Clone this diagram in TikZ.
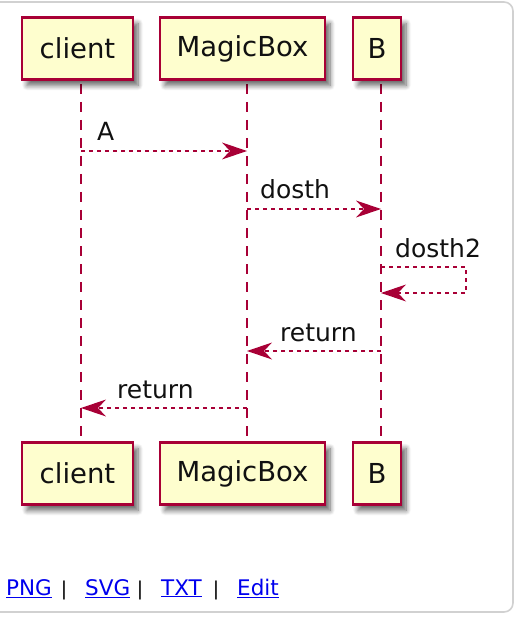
\documentclass[tikz,border=0pt]{standalone}
\usepackage{fontspec}
\setmainfont{DejaVu Sans}
\usetikzlibrary{arrows.meta,shadows.blur}
\definecolor{pbord}{HTML}{A80036}
\definecolor{pfill}{HTML}{FEFECE}
\definecolor{ptext}{HTML}{111111}
\definecolor{linkblue}{HTML}{0000EE}
\tikzset{
  part/.style={draw=pbord, fill=pfill, line width=2.2pt, minimum height=62pt, inner sep=0pt,
    text=ptext, font=\fontsize{27.5}{30}\selectfont,
    blur shadow={shadow xshift=5pt, shadow yshift=-6pt, shadow blur steps=8, shadow blur radius=5pt, shadow opacity=60}},
  lifeline/.style={draw=pbord, line width=2pt, dash pattern=on 10pt off 8pt},
  msg/.style={draw=pbord, line width=2pt, dash pattern=on 4pt off 4pt,
    -{Stealth[length=25pt, width=17pt, inset=8pt, fill=pbord, line width=0pt, sep=0pt]}},
  mlabel/.style={anchor=base west, inner sep=0pt, text=ptext, font=\fontsize{25}{28}\selectfont},
  link/.style={anchor=base west, inner sep=0pt, text=linkblue, font=\fontsize{21.5}{24}\selectfont},
  sepbar/.style={anchor=base, inner sep=0pt, text=black, font=\fontsize{19}{24}\selectfont}
}
\newcommand{\ulink}[1]{\setlength{\fboxsep}{0pt}\underline{#1}}
\begin{document}
\begin{tikzpicture}[x=1pt,y=-1pt]
\useasboundingbox (0,0) rectangle (522,620);
\draw[black!18, line width=1.6pt, rounded corners=9pt] (-12,2) rectangle (513,612);

% lifeline anchor coordinates
\coordinate (cT) at (81,84);   \coordinate (cB) at (81,442);
\coordinate (mT) at (247,84);  \coordinate (mB) at (247,442);
\coordinate (bT) at (381,84);  \coordinate (bB) at (381,442);
\draw[lifeline] (cT) -- (cB);
\draw[lifeline] (mT) -- (mB);
\draw[lifeline] (bT) -- (bB);

% participants
\node[part, minimum width=111pt] (client1) at (77.5,48.5) {client};
\node[part, minimum width=165pt] (magic1) at (242.5,48.5) {MagicBox};
\node[part, minimum width=48pt] (b1) at (377,48.5) {B};
\node[part, minimum width=111pt] (client2) at (77.5,473.5) {client};
\node[part, minimum width=165pt] (magic2) at (242.5,473.5) {MagicBox};
\node[part, minimum width=48pt] (b2) at (377,473.5) {B};

% message points
\coordinate (a1) at (81,151);  \coordinate (a2) at (247,151);
\coordinate (d1) at (247,209); \coordinate (d2) at (381,209);
\coordinate (s1) at (381,267); \coordinate (s2) at (466,267);
\coordinate (s3) at (466,293); \coordinate (s4) at (381,293);
\coordinate (r1) at (381,351); \coordinate (r2) at (247,351);
\coordinate (q1) at (247,408); \coordinate (q2) at (81,408);

\draw[msg] (a1) -- (a2);
\node[mlabel] (lA) at (97,141) {A};
\draw[msg] (d1) -- (d2);
\node[mlabel] (ld) at (260,199) {dosth};
\draw[msg] (s1) -- (s2) -- (s3) -- (s4);
\node[mlabel] (ld2) at (395,257) {dosth2};
\draw[msg] (r1) -- (r2);
\node[mlabel] (lr1) at (280,341) {return};
\draw[msg] (q1) -- (q2);
\node[mlabel] (lr2) at (117,398) {return};

% links
\node[link] (png) at (6,595) {\underline{PNG}};
\node[sepbar] (s1b) at (64,595) {|};
\node[link] (svg) at (85,595) {\underline{SVG}};
\node[sepbar] (s2b) at (140,595) {|};
\node[link] (txt) at (161,595) {\underline{TXT}};
\node[sepbar] (s3b) at (216,595) {|};
\node[link] (edit) at (237,595) {\underline{Edit}};
\end{tikzpicture}
\end{document}
